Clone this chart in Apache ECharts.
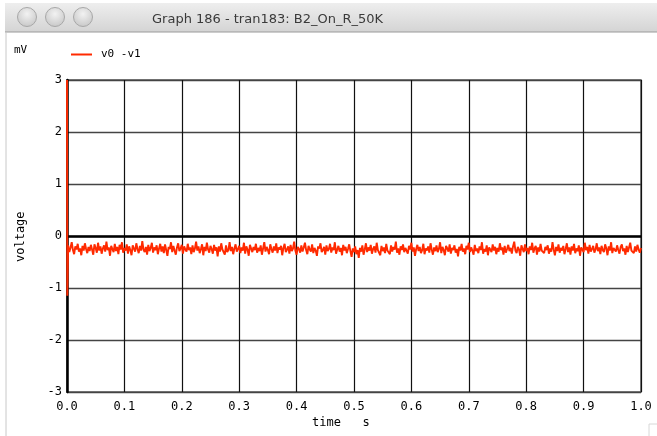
<!DOCTYPE html>
<html>
<head>
<meta charset="utf-8">
<script src="https://cdn.jsdelivr.net/npm/echarts@6/dist/echarts.min.js"></script>
<style>html,body{margin:0;padding:0;background:#fff}#c{width:657px;height:436px}</style>
</head>
<body>
<div id="c"></div>
<script>
// ---- data ----
const windowTitle = 'Graph 186 - tran183: B2_On_R_50K';
const seriesName = 'v0 -v1';
const yUnit = 'mV';
const yName = 'voltage';
const xName = 'time   s';
const yTicks = [-3, -2, -1, 0, 1, 2, 3];
const xTicks = [0.0, 0.1, 0.2, 0.3, 0.4, 0.5, 0.6, 0.7, 0.8, 0.9, 1.0];
// initial transient at t = 0
const spikeTimes = [0, 0.0005];
const spikeValues = [3.0, -1.15];
// noisy steady-state trace (mV), sampled uniformly from noiseStart to 1.0 s
const noiseStart = 0.002;
const noiseValues = [
-0.18,-0.31,-0.22,-0.12,-0.27,-0.35,-0.20,-0.26,-0.15,-0.30,-0.24,-0.37,-0.19,-0.28,-0.14,-0.25,-0.33,-0.21,-0.29,-0.17,
-0.26,-0.36,-0.16,-0.23,-0.32,-0.13,-0.28,-0.20,-0.34,-0.24,-0.18,-0.30,-0.11,-0.27,-0.22,-0.38,-0.19,-0.25,-0.31,-0.15,
-0.29,-0.21,-0.35,-0.17,-0.26,-0.12,-0.32,-0.23,-0.28,-0.16,-0.34,-0.20,-0.27,-0.37,-0.18,-0.24,-0.30,-0.14,-0.25,-0.33,
-0.19,-0.28,-0.10,-0.26,-0.31,-0.21,-0.36,-0.17,-0.29,-0.23,-0.13,-0.32,-0.22,-0.27,-0.18,-0.35,-0.24,-0.15,-0.30,-0.20,
-0.33,-0.16,-0.27,-0.38,-0.21,-0.25,-0.12,-0.31,-0.19,-0.28,-0.36,-0.22,-0.14,-0.29,-0.24,-0.17,-0.34,-0.20,-0.26,-0.30,
-0.15,-0.27,-0.22,-0.35,-0.18,-0.31,-0.24,-0.11,-0.28,-0.20,-0.33,-0.25,-0.16,-0.37,-0.21,-0.29,-0.13,-0.26,-0.32,-0.19,
-0.25,-0.34,-0.17,-0.28,-0.22,-0.39,-0.20,-0.30,-0.14,-0.26,-0.23,-0.36,-0.18,-0.31,-0.27,-0.12,-0.29,-0.21,-0.35,-0.24,
-0.16,-0.30,-0.25,-0.19,-0.33,-0.22,-0.28,-0.13,-0.34,-0.20,-0.26,-0.38,-0.17,-0.24,-0.31,-0.21,-0.27,-0.15,-0.32,-0.23,
-0.29,-0.18,-0.36,-0.24,-0.12,-0.30,-0.21,-0.27,-0.35,-0.16,-0.25,-0.32,-0.20,-0.28,-0.14,-0.33,-0.22,-0.26,-0.19,-0.37,
-0.23,-0.15,-0.31,-0.26,-0.20,-0.34,-0.17,-0.29,-0.24,-0.11,-0.28,-0.36,-0.21,-0.25,-0.32,-0.18,-0.30,-0.22,-0.13,-0.27,
-0.35,-0.19,-0.26,-0.30,-0.16,-0.33,-0.23,-0.28,-0.38,-0.20,-0.24,-0.14,-0.31,-0.27,-0.21,-0.36,-0.18,-0.29,-0.25,-0.15,
-0.32,-0.22,-0.27,-0.12,-0.34,-0.26,-0.19,-0.30,-0.23,-0.37,-0.17,-0.28,-0.21,-0.33,-0.25,-0.16,-0.29,-0.40,-0.24,-0.31,
-0.20,-0.35,-0.27,-0.42,-0.23,-0.30,-0.18,-0.36,-0.26,-0.14,-0.31,-0.22,-0.28,-0.17,-0.34,-0.25,-0.20,-0.32,-0.13,-0.27,
-0.24,-0.37,-0.19,-0.29,-0.22,-0.33,-0.15,-0.28,-0.25,-0.35,-0.18,-0.30,-0.21,-0.26,-0.11,-0.32,-0.24,-0.36,-0.20,-0.27,
-0.16,-0.31,-0.23,-0.28,-0.34,-0.19,-0.26,-0.13,-0.30,-0.22,-0.38,-0.25,-0.17,-0.29,-0.21,-0.33,-0.27,-0.15,-0.35,-0.24,
-0.28,-0.20,-0.32,-0.14,-0.26,-0.36,-0.22,-0.29,-0.18,-0.31,-0.25,-0.12,-0.33,-0.21,-0.27,-0.37,-0.19,-0.24,-0.30,-0.16,
-0.34,-0.23,-0.27,-0.18,-0.32,-0.25,-0.39,-0.21,-0.28,-0.15,-0.30,-0.24,-0.35,-0.19,-0.26,-0.13,-0.31,-0.22,-0.28,-0.36,
-0.17,-0.29,-0.24,-0.33,-0.20,-0.27,-0.12,-0.34,-0.25,-0.30,-0.18,-0.37,-0.22,-0.26,-0.31,-0.16,-0.28,-0.21,-0.35,-0.23,
-0.30,-0.14,-0.27,-0.22,-0.36,-0.19,-0.32,-0.25,-0.17,-0.29,-0.23,-0.34,-0.20,-0.11,-0.28,-0.33,-0.21,-0.26,-0.38,-0.18,
-0.25,-0.31,-0.16,-0.29,-0.23,-0.35,-0.20,-0.27,-0.13,-0.32,-0.24,-0.19,-0.36,-0.22,-0.30,-0.15,-0.28,-0.25,-0.33,-0.21,
-0.27,-0.18,-0.34,-0.24,-0.30,-0.12,-0.26,-0.37,-0.21,-0.29,-0.16,-0.32,-0.23,-0.28,-0.19,-0.35,-0.25,-0.14,-0.31,-0.22,
-0.36,-0.20,-0.28,-0.15,-0.33,-0.24,-0.29,-0.18,-0.38,-0.22,-0.26,-0.31,-0.13,-0.27,-0.21,-0.34,-0.17,-0.30,-0.25,-0.19,
-0.32,-0.26,-0.14,-0.29,-0.22,-0.35,-0.19,-0.27,-0.31,-0.16,-0.24,-0.37,-0.20,-0.28,-0.12,-0.33,-0.23,-0.26,-0.30,-0.18,
-0.27,-0.34,-0.21,-0.16,-0.29,-0.24,-0.36,-0.19,-0.31,-0.22,-0.13,-0.28,-0.25,-0.33,-0.20,-0.30,-0.17,-0.26,-0.32,-0.23
];

// ---- build series data ----
const pts = [];
for (let i = 0; i < spikeTimes.length; i++) pts.push([spikeTimes[i], spikeValues[i]]);
const dt = (1.0 - noiseStart) / (noiseValues.length - 1);
for (let i = 0; i < noiseValues.length; i++) pts.push([noiseStart + i * dt, noiseValues[i]]);

const mono = '"DejaVu Sans Mono", "Liberation Mono", monospace';
const chart = echarts.init(document.getElementById('c'), null, {renderer: 'canvas'});
chart.setOption({
  animation: false,
  backgroundColor: '#fff',
  title: {
    text: windowTitle, left: 147, top: 8,
    textStyle: {fontFamily: '"DejaVu Sans", sans-serif', fontSize: 13, fontWeight: 'normal', color: '#3a3a3a'}
  },
  legend: {
    data: [seriesName], left: 66, top: 44, icon: 'rect', itemWidth: 21, itemHeight: 2, itemGap: 6,
    textStyle: {fontFamily: mono, fontSize: 11, color: '#000', padding: [0, 0, 0, 4]}
  },
  grid: {left: 67, right: 16, top: 80, bottom: 44, show: true, borderColor: '#555', borderWidth: 1.5},
  xAxis: {
    type: 'value', min: xTicks[0], max: xTicks[xTicks.length - 1], interval: 0.1,
    axisLine: {show: false}, axisTick: {show: false},
    axisLabel: {fontFamily: mono, fontSize: 12, color: '#000', margin: 9, formatter: v => v.toFixed(1)},
    splitLine: {show: true, lineStyle: {color: '#111', width: 1.2}}
  },
  yAxis: {
    type: 'value', min: yTicks[0], max: yTicks[yTicks.length - 1], interval: 1,
    axisLine: {show: true, onZero: false, lineStyle: {color: '#000', width: 2.5}}, axisTick: {show: false},
    axisLabel: {fontFamily: mono, fontSize: 12, color: '#000', margin: 5, formatter: v => String(v)},
    splitLine: {show: true, lineStyle: {color: '#444', width: 1.4}}
  },
  series: [{
    name: seriesName, type: 'line', data: pts, showSymbol: false, symbol: 'none', z: 5,
    lineStyle: {color: '#ff2a00', width: 1.9}, itemStyle: {color: '#ff2a00'},
    markLine: {
      silent: true, symbol: 'none', label: {show: false}, z: 3,
      lineStyle: {color: '#000', width: 2.5, type: 'solid'},
      data: [{yAxis: 0}]
    }
  }],
  graphic: [
    {type: 'rect', z: -10, shape: {x: 5, y: 3, width: 652, height: 29},
     style: {fill: new echarts.graphic.LinearGradient(0, 0, 0, 1, [{offset: 0, color: '#eeeeee'}, {offset: 1, color: '#d4d4d4'}])}},
    {type: 'line', z: -9, shape: {x1: 5, y1: 32, x2: 657, y2: 32}, style: {stroke: '#9a9a9a', lineWidth: 1}},
    {type: 'line', z: -9, shape: {x1: 6, y1: 32, x2: 6, y2: 436}, style: {stroke: '#c8c8c8', lineWidth: 1}},
    {type: 'circle', shape: {cx: 27, cy: 17, r: 9.5}, style: {fill: new echarts.graphic.RadialGradient(0.5, 0.35, 0.7, [{offset: 0, color: '#f2f2f2'}, {offset: 1, color: '#c4c4c4'}]), stroke: '#a8a8a8', lineWidth: 1}},
    {type: 'circle', shape: {cx: 55, cy: 17, r: 9.5}, style: {fill: new echarts.graphic.RadialGradient(0.5, 0.35, 0.7, [{offset: 0, color: '#f2f2f2'}, {offset: 1, color: '#c4c4c4'}]), stroke: '#a8a8a8', lineWidth: 1}},
    {type: 'circle', shape: {cx: 83, cy: 17, r: 9.5}, style: {fill: new echarts.graphic.RadialGradient(0.5, 0.35, 0.7, [{offset: 0, color: '#f2f2f2'}, {offset: 1, color: '#c4c4c4'}]), stroke: '#a8a8a8', lineWidth: 1}},
    {type: 'text', left: 14, top: 45, style: {text: yUnit, font: '11px ' + mono, fill: '#000'}},
    {type: 'text', x: 15, y: 262, rotation: Math.PI / 2, style: {text: yName, font: '12px ' + mono, fill: '#000'}},
    {type: 'text', left: 312, top: 417, style: {text: xName, font: '12px ' + mono, fill: '#000'}},
    {type: 'polyline', shape: {points: [[649, 436], [649, 424], [657, 424]]}, style: {stroke: '#d8d8d8', fill: null, lineWidth: 1}}
  ]
});
</script>
</body>
</html>
